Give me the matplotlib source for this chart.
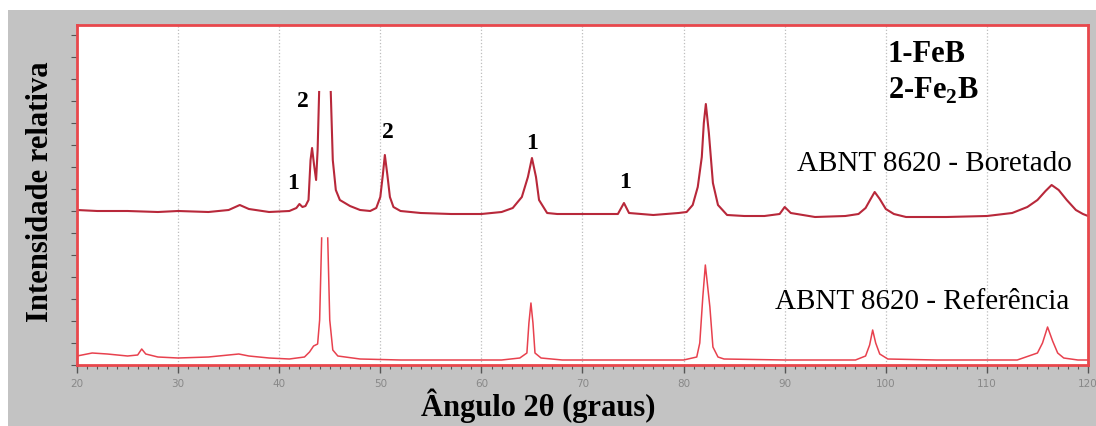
import numpy as np
import matplotlib
matplotlib.use("Agg")
import matplotlib.pyplot as plt
from matplotlib.patches import Rectangle
from matplotlib.ticker import MultipleLocator

# Relative intensity (arbitrary units); NaN breaks the clipped main peak
boretado_2theta = [20, 22, 25, 28, 30, 33, 35, 36.1, 37, 39, 41, 41.7, 42.0, 42.3, 42.6,
                   42.9, 43.1, 43.25, 43.45, 43.65, 43.8, 43.95, np.nan,
                   45.1, 45.3, 45.6, 46, 47, 48, 49, 49.6, 50.0, 50.25, 50.45, 50.7, 50.95,
                   51.3, 52, 54, 57, 60, 62, 63.1, 64.0, 64.6, 65.0, 65.4, 65.7, 66.5,
                   67.5, 70, 73.5, 74.1, 74.6, 77, 79.5, 80.3, 80.9, 81.4, 81.8, 82.0,
                   82.2, 82.5, 82.9, 83.4, 84.3, 86, 88, 89.5, 90.0, 90.6, 93, 96, 97.3,
                   98.0, 98.5, 98.9, 99.4, 100.0, 100.8, 102, 106, 110, 112.5, 114, 115.0,
                   115.8, 116.4, 117.1, 117.9, 118.8, 119.5, 120]
boretado_int = [155, 154, 154, 153, 154, 153, 155, 160, 156, 153, 154, 157, 161, 158, 159,
                165, 205, 217, 200, 185, 215, 273, np.nan,
                273, 205, 175, 165, 159, 155, 154, 157, 168, 190, 210, 190, 168,
                158, 154, 152, 151, 151, 153, 157, 168, 188, 207, 188, 165, 152,
                151, 151, 151, 162, 152, 150, 152, 153, 160, 178, 208, 242,
                261, 232, 182, 160, 150, 149, 149, 151, 158, 152, 148, 149, 151,
                157, 166, 173, 166, 156, 151, 148, 148, 149, 152, 158, 165,
                174, 180, 175, 165, 155, 151, 149]

referencia_2theta = [20, 21.5, 23, 25, 26.0, 26.4, 26.8, 28, 30, 33, 35, 36, 37, 39, 41,
                     42.5, 43.0, 43.4, 43.8, 44.0, 44.2, np.nan,
                     44.8, 45.0, 45.3, 45.8, 48, 52, 58, 62, 63.8, 64.5, 64.7, 64.9, 65.1,
                     65.3, 65.9, 68, 75, 80, 81.3, 81.6, 81.9, 82.15, 82.6, 82.9, 83.4, 84,
                     90, 97, 98.0, 98.4, 98.7, 99.0, 99.4, 100.2, 105, 113, 115.0, 115.5,
                     116.0, 116.5, 117.0, 117.6, 119, 120]
referencia_int = [9, 12, 11, 9, 10, 16, 11, 8, 7, 8, 10, 11, 9, 7, 6,
                  8, 13, 19, 21, 45, 127, np.nan,
                  127, 45, 15, 9, 6, 5, 5, 5, 7, 12, 42, 62, 42,
                  12, 7, 5, 5, 5, 8, 22, 68, 100, 58, 18, 8, 6,
                  5, 5, 9, 20, 35, 22, 11, 6, 5, 5, 12, 22,
                  38, 24, 12, 7, 5, 5]

peak_labels = [("1", 41.4, 182), ("2", 42.3, 264), ("2", 50.7, 233), ("1", 65.0, 222), ("1", 74.2, 183)]

W, H = 1096, 426
plt.rcParams["mathtext.fontset"] = "custom"
plt.rcParams["mathtext.rm"] = "Liberation Serif"
plt.rcParams["mathtext.bf"] = "Liberation Serif:bold"

fig = plt.figure(figsize=(W / 100, H / 100), dpi=100, facecolor="white")
fig.patches.append(Rectangle((8 / W, 0), 1, (H - 10) / H, transform=fig.transFigure,
                             facecolor="#c3c3c3", edgecolor="none", zorder=-10))

ax = fig.add_axes([77 / W, (H - 365) / H, (1088 - 77) / W, (365 - 25) / H])
ax.set_facecolor("white")

ax.plot(referencia_2theta, referencia_int, color="#e8414e", lw=1.1)
ax.plot(boretado_2theta, boretado_int, color="#b8283a", lw=1.5)

ax.set_xlim(20, 120)
ax.set_ylim(0, 340)
ax.xaxis.set_major_locator(MultipleLocator(10))
ax.xaxis.set_minor_locator(MultipleLocator(1))
ax.yaxis.set_major_locator(MultipleLocator(22))
ax.set_yticklabels([])
ax.tick_params(axis="x", which="major", length=6, width=1, color="#555555",
               labelsize=7.5, labelcolor="#888888", pad=4)
ax.tick_params(axis="x", which="minor", length=3, width=0.8, color="#555555")
ax.tick_params(axis="y", which="major", length=4, width=0.8, color="#555555")
ax.grid(axis="x", which="major", color="#bdbdbd", ls=":", lw=0.9)

for s in ax.spines.values():
    s.set_color("#e8474c")
    s.set_linewidth(2)

serif = ["Liberation Serif", "DejaVu Serif"]
for txt, x, y in peak_labels:
    ax.text(x, y, txt, fontsize=17, fontweight="bold", family=serif, ha="center", va="center")

ax.text(100.2, 311, "1-FeB", fontsize=22, fontweight="bold", family=serif, ha="left", va="center")
ax.text(100.2, 274, r"2-Fe$_\mathbf{2}$B", fontsize=22, fontweight="bold", family=serif,
        ha="left", va="center")
ax.text(118.4, 201, "ABNT 8620 - Boretado", fontsize=21, family=serif, ha="right", va="center")
ax.text(118.2, 63, "ABNT 8620 - Referência", fontsize=21, family=serif, ha="right", va="center")

fig.text(538 / W, 1 - 406 / H, "Ângulo 2θ (graus)", fontsize=22, fontweight="bold",
         family=serif, ha="center", va="center")
fig.text(41 / W, 1 - 192 / H, "Intensidade relativa", fontsize=22, fontweight="bold",
         family=serif, ha="center", va="center", rotation=90)

fig.savefig("out.png", dpi=100, facecolor=fig.get_facecolor())
